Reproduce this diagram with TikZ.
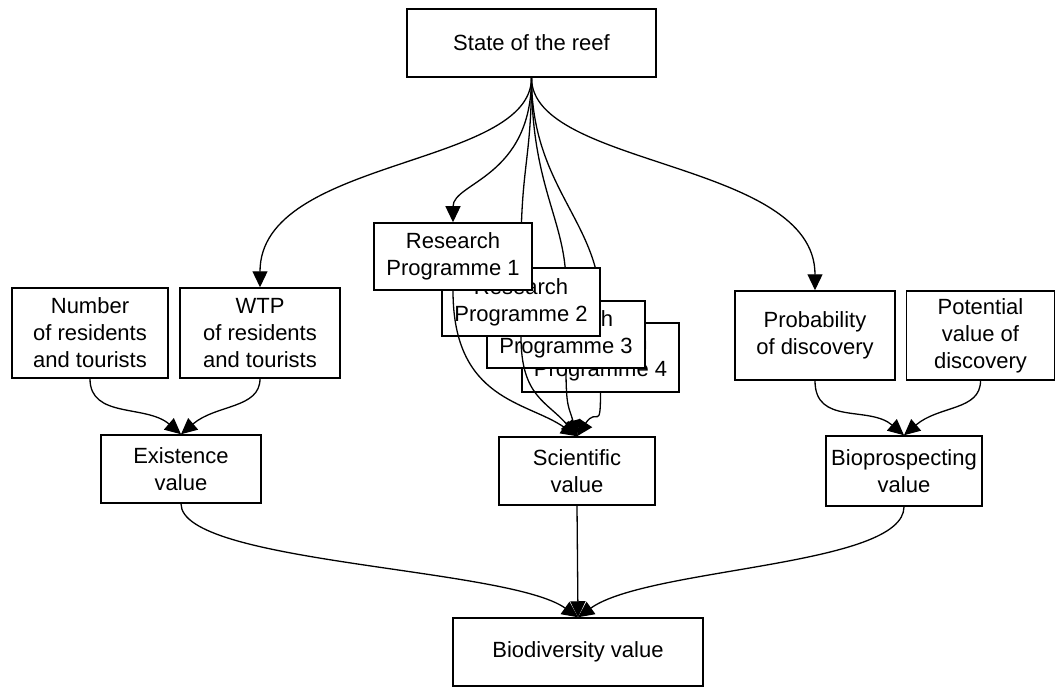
\documentclass[tikz,border=0pt]{standalone}
\usepackage{fontspec}
\setmainfont{Liberation Sans}
\usetikzlibrary{arrows.meta}
\pgfdeclarelayer{background}
\pgfdeclarelayer{bottom}
\pgfdeclarelayer{foreground}
\pgfsetlayers{bottom,background,main,foreground}
\begin{document}
\begin{tikzpicture}[x=1pt,y=-1pt,
  box/.style={draw=black,line width=1.5pt,fill=white,align=center,inner sep=2pt,
    font=\fontsize{22}{27}\selectfont},
  arr/.style={line width=1.3pt,-{Triangle[length=16pt,width=15pt]}}]
\begin{pgfonlayer}{bottom}
\fill[white] (0,0) rectangle (1057,687);
\end{pgfonlayer}
\useasboundingbox (0,0) rectangle (1057,687);
% nodes
\node[box,minimum width=249pt,minimum height=68pt] (reef) at (531.5,43) {State of the reef};
\node[box,minimum width=156pt,minimum height=90pt] (num) at (90,333) {Number\\of residents\\and tourists};
\node[box,minimum width=160pt,minimum height=90pt] (wtp) at (260,333) {WTP\\of residents\\and tourists};
\node[box,minimum width=160pt,minimum height=68pt] (exist) at (181,469) {Existence\\value};
\node[box,minimum width=157pt,minimum height=69pt] (rp4) at (600.5,357.5) {Research\\Programme 4};
\node[box,minimum width=158pt,minimum height=67pt] (rp3) at (566,334.5) {Research\\Programme 3};
\node[box,minimum width=158pt,minimum height=68pt] (rp2) at (521,302) {Research\\Programme 2};
\node[box,minimum width=158pt,minimum height=67pt] (rp1) at (453,256.5) {Research\\Programme 1};
\node[box,minimum width=156pt,minimum height=68pt] (sci) at (577,471) {Scientific\\value};
\node[box,minimum width=160pt,minimum height=89pt] (prob) at (815,335.5) {Probability\\of discovery};
\node[box,minimum width=148pt,minimum height=89pt] (pot) at (980.5,335.5) {Potential\\value of\\discovery};
\node[box,minimum width=156pt,minimum height=70pt] (bio) at (904,471) {Bioprospecting\\value};
\node[box,minimum width=250pt,minimum height=68pt] (biod) at (578,652) {Biodiversity value};
% fan from the reef (behind boxes)
\begin{pgfonlayer}{background}
\draw[arr] (reef.south) .. controls +(0,90) and +(0,-130) .. (wtp.north);
\draw[arr] (reef.south) .. controls +(0,90) and +(0,-130) .. (prob.north);
\draw[arr] (reef.south) .. controls +(0,100) and +(0,-40) .. (rp1.north);
\draw[arr] (reef.south) .. controls +(0,80) and +(0,-100) .. (rp2.north);
\draw[arr] (reef.south) .. controls +(0,110) and +(0,-80) .. (rp3.north);
\draw[arr] (reef.south) .. controls +(0,110) and +(0,-100) .. (rp4.north);
\end{pgfonlayer}
% programmes to scientific value (over boxes)
\begin{pgfonlayer}{foreground}
\draw[arr] (rp1.south) .. controls +(0,110) and +(-50,-35) .. (sci.north);
\draw[arr] (rp2.south) .. controls +(0,60) and +(-30,-35) .. (sci.north);
\draw[arr] (rp3.south) .. controls +(0,40) and +(-8,-30) .. (sci.north);
\draw[arr] (rp4.south) .. controls +(0,40) and +(20,-30) .. (sci.north);
\end{pgfonlayer}
% other connectors
\draw[arr] (num.south) .. controls +(0,40) and +(-35,-30) .. (exist.north);
\draw[arr] (wtp.south) .. controls +(0,30) and +(35,-30) .. (exist.north);
\draw[arr] (prob.south) .. controls +(0,45) and +(-35,-30) .. (bio.north);
\draw[arr] (pot.south) .. controls +(0,30) and +(35,-30) .. (bio.north);
\draw[arr] (exist.south) .. controls +(0,60) and +(-70,-50) .. (biod.north);
\draw[arr] (sci.south) -- (biod.north);
\draw[arr] (bio.south) .. controls +(0,60) and +(70,-50) .. (biod.north);
\end{tikzpicture}
\end{document}
